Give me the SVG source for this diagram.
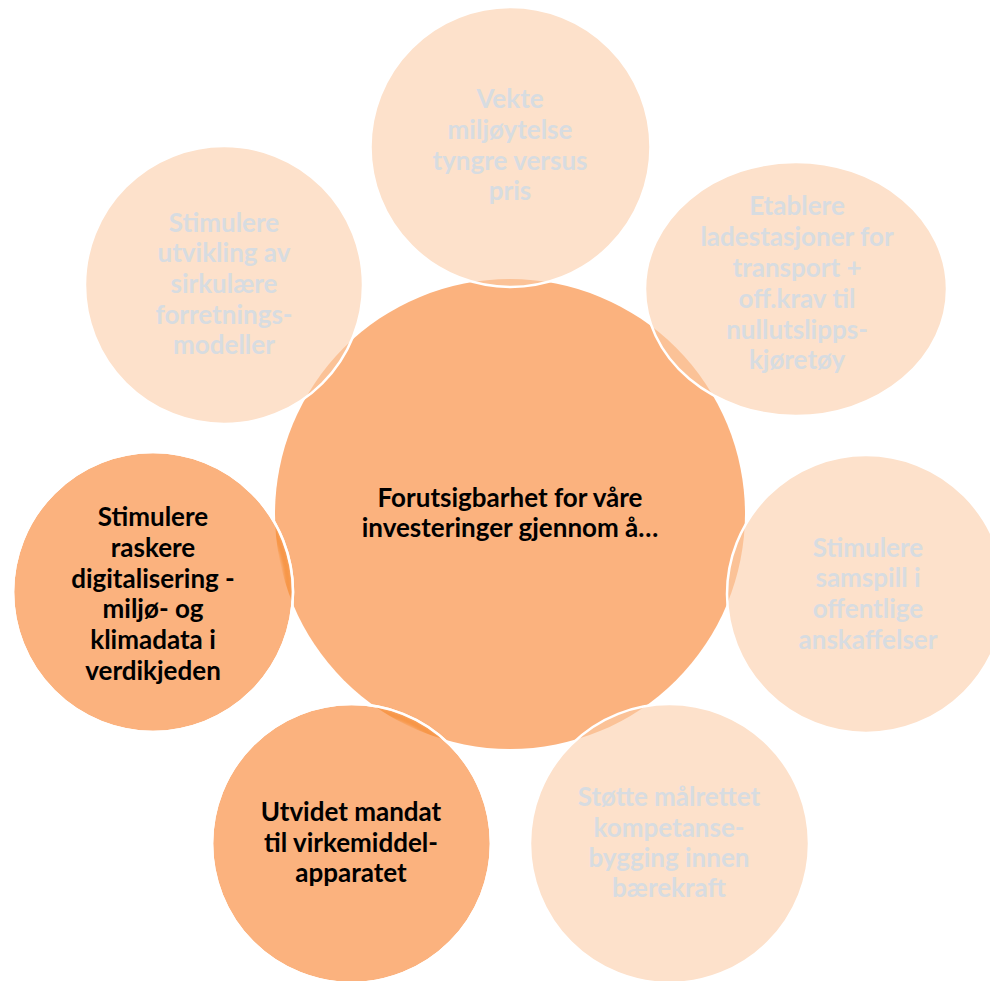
<svg xmlns="http://www.w3.org/2000/svg" width="990" height="981" viewBox="0 0 990 981">
<defs>
<style>
.center{fill:#FBB27E;}
.dark{fill:#FBB27E;stroke:#FFFFFF;stroke-width:2.5;}
.faded{fill:#FCCDA8;fill-opacity:0.6;stroke:#FFFFFF;stroke-width:2.5;}
.t{font-family:"Lato","Liberation Sans",sans-serif;font-weight:bold;font-size:26px;text-anchor:middle;}
.tb{fill:#000000;}
.tf{fill:#D7DCE1;}
</style>
<clipPath id="cc"><circle cx="510" cy="514" r="235"/></clipPath>
<filter id="blur" x="-20%" y="-20%" width="140%" height="140%"><feGaussianBlur stdDeviation="1.6"/></filter>
</defs>
<rect width="990" height="981" fill="#FFFFFF"/>

<g id="node-center">
<circle class="center" cx="510" cy="514" r="235"/>
<text class="t tb" x="510" y="507">Forutsigbarhet for våre</text>
<text class="t tb" x="510" y="537">investeringer gjennom å…</text>
</g>

<g id="node-top">
<circle class="faded" cx="510.5" cy="147" r="140"/>
<text class="t tf" x="510" y="108">Vekte</text>
<text class="t tf" x="510" y="139">miljøytelse</text>
<text class="t tf" x="510" y="170">tyngre versus</text>
<text class="t tf" x="510" y="200">pris</text>
</g>

<g id="node-top-right">
<ellipse class="faded" cx="796" cy="289" rx="151" ry="127"/>
<text class="t tf" x="797" y="215">Etablere</text>
<text class="t tf" x="797" y="246">ladestasjoner for</text>
<text class="t tf" x="797" y="277">transport +</text>
<text class="t tf" x="797" y="308">off.krav til</text>
<text class="t tf" x="797" y="339">nullutslipps-</text>
<text class="t tf" x="797" y="369">kjøretøy</text>
</g>

<g id="node-right">
<circle class="faded" cx="866" cy="594" r="139"/>
<text class="t tf" x="868" y="557">Stimulere</text>
<text class="t tf" x="868" y="587">samspill i</text>
<text class="t tf" x="868" y="618">offentlige</text>
<text class="t tf" x="868" y="649">anskaffelser</text>
</g>

<g id="node-bottom-right">
<circle class="faded" cx="669.5" cy="843.5" r="139.5"/>
<text class="t tf" x="669" y="806">Støtte målrettet</text>
<text class="t tf" x="669" y="837">kompetanse-</text>
<text class="t tf" x="669" y="867">bygging innen</text>
<text class="t tf" x="669" y="897">bærekraft</text>
</g>

<g id="node-bottom-left">
<circle class="dark" cx="351.5" cy="843.5" r="139.5"/>
<g clip-path="url(#cc)"><circle cx="351.5" cy="843.5" r="135" fill="none" stroke="#F79646" stroke-width="7" filter="url(#blur)"/></g>
<circle cx="351.5" cy="843.5" r="139.5" fill="none" stroke="#FFFFFF" stroke-width="2.5"/>
<text class="t tb" x="351" y="821">Utvidet mandat</text>
<text class="t tb" x="351" y="852">til virkemiddel-</text>
<text class="t tb" x="351" y="882">apparatet</text>
</g>

<g id="node-left">
<circle class="dark" cx="153" cy="592" r="140"/>
<g clip-path="url(#cc)"><circle cx="153" cy="592" r="135.5" fill="none" stroke="#F79646" stroke-width="7" filter="url(#blur)"/></g>
<circle cx="153" cy="592" r="140" fill="none" stroke="#FFFFFF" stroke-width="2.5"/>
<text class="t tb" x="153" y="526">Stimulere</text>
<text class="t tb" x="153" y="557">raskere</text>
<text class="t tb" x="153" y="588">digitalisering -</text>
<text class="t tb" x="153" y="618">miljø- og</text>
<text class="t tb" x="153" y="649">klimadata i</text>
<text class="t tb" x="153" y="680">verdikjeden</text>
</g>

<g id="node-top-left">
<circle class="faded" cx="224" cy="285" r="139"/>
<text class="t tf" x="224" y="232">Stimulere</text>
<text class="t tf" x="224" y="262">utvikling av</text>
<text class="t tf" x="224" y="293">sirkulære</text>
<text class="t tf" x="224" y="324">forretnings-</text>
<text class="t tf" x="224" y="354">modeller</text>
</g>
</svg>
